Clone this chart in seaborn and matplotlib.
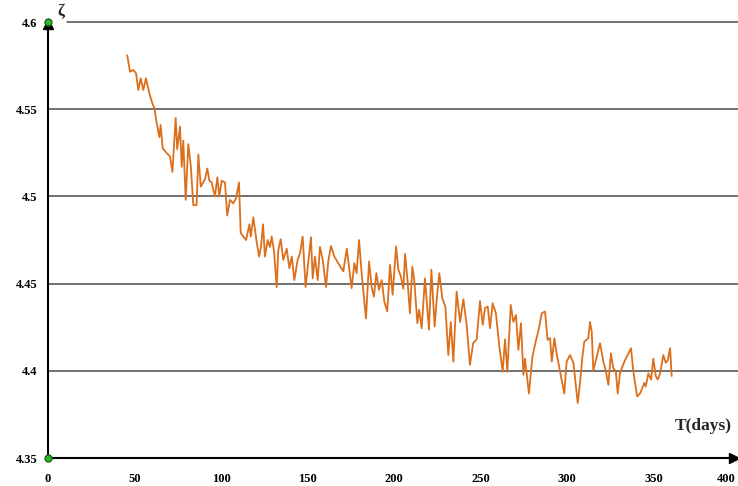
import matplotlib
matplotlib.use("Agg")
import matplotlib.pyplot as plt
import matplotlib.transforms as mtransforms
import seaborn as sns
import pandas as pd

# -------------------------------
# Data (day, value)
# -------------------------------
days = [45.8, 47.4, 49.3, 50.9, 52.2, 53.6, 55.1, 56.6, 58.6, 60.3, 61.5, 62.8, 64.4, 65.1,
        66.3, 68.6, 70.5, 71.9, 73.8, 74.7, 76.3, 77.3, 78.2, 79.6, 81.1, 82.5, 84.0, 85.9,
        86.9, 88.3, 90.8, 92.1, 93.3, 94.6, 96.5, 97.9, 99.0, 100.4, 102.3, 103.6, 105.2,
        107.1, 108.7, 110.4, 111.4, 112.9, 114.5, 116.4, 117.2, 118.7,
        120.6, 122.0, 123.1, 124.3, 125.4, 127.0, 128.3, 129.3, 130.6, 132.2, 133.1, 134.5,
        136.0, 138.0, 139.5, 140.9, 142.4, 144.3, 145.7, 147.2, 148.9, 150.5, 152.0, 153.0,
        154.3, 155.9, 157.2, 158.8, 160.7, 162.0, 163.6, 165.5, 167.8, 170.7, 172.7, 175.5,
        177.1, 178.4, 179.8, 181.3, 183.8, 185.6, 187.1, 188.4, 189.8, 191.3, 192.9, 194.4,
        196.1,
        197.7, 199.2, 201.2, 202.5, 204.0, 205.4, 206.4, 207.7, 209.2, 210.6, 211.7, 213.5,
        214.5, 216.0, 217.9, 220.2, 221.6, 223.5, 224.7, 226.2, 227.9, 229.7, 231.4, 232.8,
        234.3, 236.2, 238.2, 240.1, 242.0, 243.9, 245.8, 247.8, 249.7, 251.3, 252.6, 254.2,
        255.5, 257.0, 258.9, 260.9, 262.8, 264.2, 265.5, 267.5, 269.0, 270.5, 271.9, 273.4,
        274.8,
        275.7, 278.0, 280.0, 281.9, 283.8, 285.4, 287.3, 288.8, 290.2, 291.2, 292.7, 294.0,
        295.9, 298.4, 299.8, 301.7, 303.7, 306.2, 307.5, 308.9, 310.0, 312.3, 313.3, 314.3,
        315.2, 317.2, 319.1, 321.0, 322.4, 323.9, 325.4, 326.8, 328.2, 329.3, 330.6, 331.6,
        333.5, 335.5, 337.0, 338.3, 339.3, 340.6, 342.2, 343.5, 344.7, 345.5, 347.0, 348.6,
        349.9, 351.3, 352.4, 353.8, 355.7, 357.1, 358.2, 359.6, 360.5]

zeta = [4.581, 4.5715, 4.5725, 4.5706, 4.561, 4.5677, 4.561, 4.5677, 4.559, 4.5534, 4.5505,
        4.542, 4.534, 4.541, 4.5276, 4.5248, 4.523, 4.514, 4.545, 4.527, 4.540, 4.517, 4.532,
        4.498, 4.530, 4.518, 4.495, 4.495, 4.524, 4.5056, 4.510, 4.516, 4.509, 4.508, 4.500,
        4.511, 4.500, 4.509, 4.508, 4.489, 4.498, 4.496, 4.499, 4.508, 4.479, 4.477, 4.475,
        4.484, 4.477, 4.488,
        4.474, 4.4655, 4.471, 4.484, 4.4655, 4.475, 4.471, 4.477, 4.469, 4.448, 4.469, 4.4755,
        4.4636, 4.470, 4.4588, 4.4655, 4.452, 4.4636, 4.4675, 4.477, 4.448, 4.4627, 4.4766,
        4.453, 4.4655, 4.452, 4.471, 4.4636, 4.448, 4.4627, 4.4716, 4.4655, 4.4617, 4.457,
        4.470, 4.4474, 4.4617, 4.456, 4.475, 4.456, 4.430, 4.4627, 4.448, 4.4425, 4.456,
        4.4464, 4.452, 4.4397, 4.434,
        4.4607, 4.4436, 4.4713, 4.458, 4.454, 4.447, 4.467, 4.453, 4.433, 4.4597, 4.452,
        4.4273, 4.435, 4.4244, 4.453, 4.4236, 4.458, 4.4254, 4.441, 4.456, 4.4416, 4.4368,
        4.409, 4.428, 4.4053, 4.4454, 4.428, 4.441, 4.4264, 4.4034, 4.416, 4.418, 4.440,
        4.4264, 4.436, 4.4368, 4.4244, 4.4387, 4.433, 4.4139, 4.3995, 4.418, 4.3995, 4.4378,
        4.428, 4.432, 4.412, 4.4273, 4.3977,
        4.407, 4.387, 4.408, 4.4167, 4.4244, 4.433, 4.434, 4.4177, 4.4187, 4.4053, 4.4187,
        4.410, 4.400, 4.387, 4.4053, 4.409, 4.4046, 4.3815, 4.393, 4.408, 4.4167, 4.4187,
        4.428, 4.4225, 4.400, 4.408, 4.4158, 4.4053, 4.400, 4.392, 4.410, 4.4013, 4.400,
        4.387, 4.3985, 4.4013, 4.406, 4.410, 4.413, 4.400, 4.393, 4.3853, 4.387, 4.390,
        4.393, 4.391, 4.3985, 4.395, 4.407, 4.397, 4.395, 4.3985, 4.409, 4.4046, 4.406,
        4.413, 4.397]

x_ticks = [0, 50, 100, 150, 200, 250, 300, 350, 400]
y_ticks = [4.35, 4.4, 4.45, 4.5, 4.55, 4.6]
y_tick_labels = ["4.35", "4.4", "4.45", "4.5", "4.55", "4.6"]

df = pd.DataFrame({"T": days, "zeta": zeta})

# -------------------------------
# Figure
# -------------------------------
sns.set_style("white")
plt.rcParams['font.family'] = ['Liberation Serif', 'DejaVu Serif']

fig = plt.figure(figsize=(7.38, 4.86), dpi=100)
ax = fig.add_axes([48/738, 28/486, 692/738, 436/486])

# horizontal grid lines
for yv in y_ticks[1:]:
    start = 0.028 if yv == 4.6 else 0.0
    ax.axhline(yv, xmin=start, xmax=1, color="#4a4a4a", lw=1.1, zorder=1, clip_on=False)

sns.lineplot(data=df, x="T", y="zeta", color="#dc6f1c", lw=1.3, estimator=None,
             sort=False, ax=ax, zorder=3)

ax.set_xlim(0, 400)
ax.set_ylim(4.35, 4.6)
ax.set_xticks(x_ticks)
ax.set_xticklabels([str(t) for t in x_ticks])
ax.set_yticks(y_ticks)
ax.set_yticklabels(y_tick_labels)
ax.tick_params(axis="both", labelsize=9, length=3, width=0.8, direction="inout", colors="black")
ax.tick_params(axis="x", pad=9)
ax.tick_params(axis="y", pad=6)
for lab in ax.get_xticklabels() + ax.get_yticklabels():
    lab.set_fontweight("bold")

# last x label sits at the figure edge: nudge it inside
last = ax.get_xticklabels()[-1]
last.set_horizontalalignment("right")
last.set_transform(last.get_transform() + mtransforms.ScaledTranslation(-4/100, 0, fig.dpi_scale_trans))

ax.set_xlabel("")
ax.set_ylabel("")

for side in ["top", "right"]:
    ax.spines[side].set_visible(False)
for side in ["left", "bottom"]:
    ax.spines[side].set_color("black")
    ax.spines[side].set_linewidth(1.5)
    ax.spines[side].set_clip_on(False)

# axis arrows
ax.plot(0.992, 0, marker=">", color="black", markersize=7, transform=ax.transAxes, clip_on=False, zorder=5)
ax.plot(0, 0.995, marker="^", color="black", markersize=7, transform=ax.transAxes, clip_on=False, zorder=5)

# green markers at the axis ends
ax.plot([0, 0], [4.35, 4.6], "o", color="#2db52d", markeredgecolor="#1a6a1a",
        markersize=5, clip_on=False, zorder=6)

ax.text(0.014, 1.005, "ζ", transform=ax.transAxes, fontsize=12, fontweight="bold",
        ha="left", va="bottom")
ax.text(0.905, 0.055, "T(days)", transform=ax.transAxes, fontsize=12.5, fontweight="bold",
        ha="left", va="bottom")

fig.savefig("out.png", dpi=100)
